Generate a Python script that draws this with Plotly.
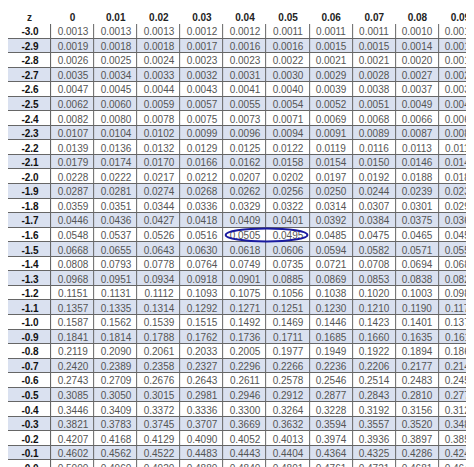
import plotly.graph_objects as go

# z-tabell (standardnormalfördelning, negativa z)
z_labels = ["-3.0", "-2.9", "-2.8", "-2.7", "-2.6", "-2.5", "-2.4", "-2.3", "-2.2", "-2.1",
            "-2.0", "-1.9", "-1.8", "-1.7", "-1.6", "-1.5", "-1.4", "-1.3", "-1.2", "-1.1",
            "-1.0", "-0.9", "-0.8", "-0.7", "-0.6", "-0.5", "-0.4", "-0.3", "-0.2", "-0.1", "-0.0"]
col_labels = ["0", "0.01", "0.02", "0.03", "0.04", "0.05", "0.06", "0.07", "0.08", "0.09"]

rows = [
    [.0013, .0013, .0013, .0012, .0012, .0011, .0011, .0011, .0010, .0010],
    [.0019, .0018, .0018, .0017, .0016, .0016, .0015, .0015, .0014, .0014],
    [.0026, .0025, .0024, .0023, .0023, .0022, .0021, .0021, .0020, .0019],
    [.0035, .0034, .0033, .0032, .0031, .0030, .0029, .0028, .0027, .0026],
    [.0047, .0045, .0044, .0043, .0041, .0040, .0039, .0038, .0037, .0036],
    [.0062, .0060, .0059, .0057, .0055, .0054, .0052, .0051, .0049, .0048],
    [.0082, .0080, .0078, .0075, .0073, .0071, .0069, .0068, .0066, .0064],
    [.0107, .0104, .0102, .0099, .0096, .0094, .0091, .0089, .0087, .0084],
    [.0139, .0136, .0132, .0129, .0125, .0122, .0119, .0116, .0113, .0110],
    [.0179, .0174, .0170, .0166, .0162, .0158, .0154, .0150, .0146, .0143],
    [.0228, .0222, .0217, .0212, .0207, .0202, .0197, .0192, .0188, .0183],
    [.0287, .0281, .0274, .0268, .0262, .0256, .0250, .0244, .0239, .0233],
    [.0359, .0351, .0344, .0336, .0329, .0322, .0314, .0307, .0301, .0294],
    [.0446, .0436, .0427, .0418, .0409, .0401, .0392, .0384, .0375, .0367],
    [.0548, .0537, .0526, .0516, .0505, .0495, .0485, .0475, .0465, .0455],
    [.0668, .0655, .0643, .0630, .0618, .0606, .0594, .0582, .0571, .0559],
    [.0808, .0793, .0778, .0764, .0749, .0735, .0721, .0708, .0694, .0681],
    [.0968, .0951, .0934, .0918, .0901, .0885, .0869, .0853, .0838, .0823],
    [.1151, .1131, .1112, .1093, .1075, .1056, .1038, .1020, .1003, .0985],
    [.1357, .1335, .1314, .1292, .1271, .1251, .1230, .1210, .1190, .1170],
    [.1587, .1562, .1539, .1515, .1492, .1469, .1446, .1423, .1401, .1379],
    [.1841, .1814, .1788, .1762, .1736, .1711, .1685, .1660, .1635, .1611],
    [.2119, .2090, .2061, .2033, .2005, .1977, .1949, .1922, .1894, .1867],
    [.2420, .2389, .2358, .2327, .2296, .2266, .2236, .2206, .2177, .2148],
    [.2743, .2709, .2676, .2643, .2611, .2578, .2546, .2514, .2483, .2451],
    [.3085, .3050, .3015, .2981, .2946, .2912, .2877, .2843, .2810, .2776],
    [.3446, .3409, .3372, .3336, .3300, .3264, .3228, .3192, .3156, .3121],
    [.3821, .3783, .3745, .3707, .3669, .3632, .3594, .3557, .3520, .3483],
    [.4207, .4168, .4129, .4090, .4052, .4013, .3974, .3936, .3897, .3859],
    [.4602, .4562, .4522, .4483, .4443, .4404, .4364, .4325, .4286, .4247],
    [.5000, .4960, .4920, .4880, .4840, .4801, .4761, .4721, .4681, .4641],
]

n = len(z_labels)
parity = [[i % 2] for i in range(n)]
scale = [[0, "white"], [1, "#dae1f0"]]

fig = go.Figure()
# z-kolumnen
fig.add_trace(go.Heatmap(
    x=[0], y=list(range(n)), z=parity,
    text=[["<b>" + z + "</b>"] for z in z_labels], texttemplate="%{text}",
    textfont=dict(family="Liberation Sans", size=10, color="#111"),
    colorscale=scale, showscale=False, xgap=1, ygap=1, hoverinfo="skip",
))
# värden
fig.add_trace(go.Heatmap(
    x=list(range(1, 11)), y=list(range(n)), z=[[i % 2] * 10 for i in range(n)],
    text=[[f"{v:.4f}" for v in r] for r in rows], texttemplate="%{text}",
    textfont=dict(family="Liberation Sans", size=10, color="#555"),
    colorscale=scale, zmin=0, zmax=1, showscale=False, xgap=1, ygap=1, hoverinfo="skip",
))

# handritad ellips runt 0.0505 och 0.0495
fig.add_shape(type="circle", xref="x", yref="y",
              x0=4.55, x1=6.45, y0=13.55, y1=14.45,
              line=dict(color="#1a1aa0", width=2))

fig.update_xaxes(side="top", tickvals=list(range(11)),
                 ticktext=["<b>z</b>"] + [f"<b>{c}</b>" for c in col_labels],
                 tickfont=dict(family="Liberation Sans", size=10, color="#222"),
                 showgrid=False, zeroline=False, ticks="", ticklen=0,
                 range=[-0.5, 10.5])
fig.update_yaxes(autorange="reversed", showticklabels=False, showgrid=False,
                 zeroline=False, range=[n - 0.5, -0.5])
fig.update_layout(width=474, height=467, margin=dict(l=0, r=0, t=16, b=0),
                  paper_bgcolor="white", plot_bgcolor="#666")
fig.write_html("out.html")
